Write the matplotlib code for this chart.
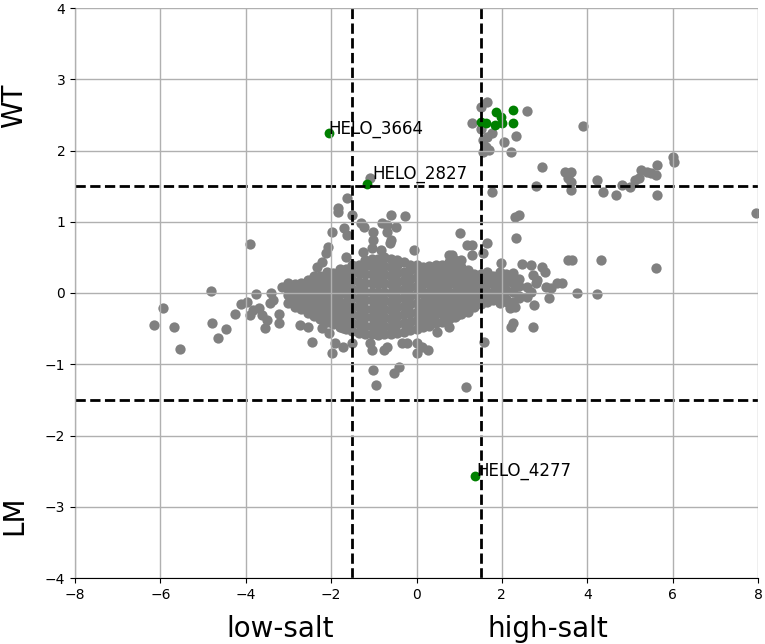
import matplotlib
matplotlib.use('Agg')
import matplotlib.pyplot as plt

# dichter Kern der Punktwolke: x-Spalten und die y-Werte je Spalte
cloud_cols = [-3.00, -2.85, -2.70, -2.55, -2.40, -2.25, -2.10, -1.95, -1.80, -1.65,
              -1.50, -1.35, -1.20, -1.05, -0.90, -0.75, -0.60, -0.45, -0.30, -0.15,
              0.00, 0.15, 0.30, 0.45, 0.60, 0.75, 0.90, 1.05, 1.20, 1.35,
              1.50, 1.65, 1.80, 1.95, 2.10, 2.25, 2.40]
cloud_rows = [
    [-0.14, -0.03, 0.06],
    [-0.20, -0.08, 0.04, 0.12],
    [-0.22, -0.10, 0.02, 0.14],
    [-0.28, -0.16, -0.04, 0.08, 0.18],
    [-0.32, -0.20, -0.08, 0.04, 0.16, 0.24],
    [-0.36, -0.24, -0.12, 0.00, 0.12, 0.24],
    [-0.40, -0.28, -0.16, -0.04, 0.08, 0.20, 0.30],
    [-0.44, -0.32, -0.20, -0.08, 0.04, 0.16, 0.28],
    [-0.48, -0.36, -0.24, -0.12, 0.00, 0.12, 0.24, 0.34],
    [-0.50, -0.38, -0.26, -0.14, -0.02, 0.10, 0.22, 0.34],
    [-0.54, -0.42, -0.30, -0.18, -0.06, 0.06, 0.18, 0.30, 0.40],
    [-0.56, -0.44, -0.32, -0.20, -0.08, 0.04, 0.16, 0.28, 0.40],
    [-0.58, -0.46, -0.34, -0.22, -0.10, 0.02, 0.14, 0.26, 0.38, 0.46],
    [-0.58, -0.46, -0.34, -0.22, -0.10, 0.02, 0.14, 0.26, 0.38, 0.48],
    [-0.59, -0.48, -0.36, -0.24, -0.12, 0.00, 0.12, 0.24, 0.36, 0.48],
    [-0.58, -0.46, -0.34, -0.22, -0.10, 0.02, 0.14, 0.26, 0.38, 0.50],
    [-0.57, -0.48, -0.36, -0.24, -0.12, 0.00, 0.12, 0.24, 0.36, 0.48],
    [-0.56, -0.44, -0.32, -0.20, -0.08, 0.04, 0.16, 0.28, 0.40, 0.46],
    [-0.55, -0.42, -0.30, -0.18, -0.06, 0.06, 0.18, 0.30, 0.44],
    [-0.52, -0.40, -0.28, -0.16, -0.04, 0.08, 0.20, 0.32, 0.40],
    [-0.50, -0.38, -0.26, -0.14, -0.02, 0.10, 0.22, 0.34, 0.40],
    [-0.48, -0.36, -0.24, -0.12, 0.00, 0.12, 0.24, 0.36],
    [-0.46, -0.34, -0.22, -0.10, 0.02, 0.14, 0.26, 0.38],
    [-0.42, -0.30, -0.18, -0.06, 0.06, 0.18, 0.30, 0.39],
    [-0.40, -0.28, -0.16, -0.04, 0.08, 0.20, 0.32, 0.40],
    [-0.36, -0.24, -0.12, 0.00, 0.12, 0.24, 0.36, 0.44],
    [-0.33, -0.22, -0.10, 0.02, 0.14, 0.26, 0.38, 0.46],
    [-0.30, -0.18, -0.06, 0.06, 0.18, 0.30, 0.36],
    [-0.26, -0.14, -0.02, 0.10, 0.22, 0.32],
    [-0.20, -0.08, 0.04, 0.16, 0.26],
    [-0.16, -0.04, 0.08, 0.20, 0.26],
    [-0.12, 0.00, 0.12, 0.22, 0.30],
    [-0.10, 0.02, 0.14, 0.24],
    [-0.14, -0.02, 0.10, 0.22, 0.30],
    [-0.08, 0.04, 0.16, 0.26],
    [-0.12, 0.02, 0.14, 0.22],
    [-0.04, 0.10, 0.20],
]

# einzelne graue Punkte ausserhalb des Kerns
gray_x = [-6.14, -5.93, -5.69, -5.53, -4.82, -4.80, -4.64, -4.47, -4.26, -4.10,
          -3.96, -3.91, -3.91, -3.84, -3.77, -3.68, -3.63, -3.56, -3.51, -3.44,
          -3.42, -3.37, -3.21, -3.21, -3.15, -3.02,
          -2.74, -2.55, -2.44, -2.22, -2.04, -1.99, -1.92, -1.73, -1.73, -1.50,
          -1.10, -1.05, -1.03, -0.94, -0.75, -0.70, -0.52, -0.40, -0.33, -0.23,
          0.00, 0.02, 0.12, 0.26, 0.47, 0.77, 0.94, 1.15, 1.59,
          -2.32, -2.22, -2.11, -2.08, -1.99, -1.85, -1.83, -1.62, -1.69, -1.62,
          -1.52, -1.64, -1.29, -1.22, -1.03, -1.03, -1.05, -1.26, -0.82, -0.80,
          -0.70, -0.68, -0.63, -0.59, -0.59, -0.47, -0.26, -0.05, -1.08,
          0.77, 0.84, 1.01, 1.05, 1.19, 1.29, 1.29, 1.55, 1.66, 2.34, 2.30, 2.41, 1.78,
          1.99, 2.46, 2.69, 2.93, 3.00, 2.72, 2.25, 2.34, 2.58, 2.01, 2.83, 2.81,
          3.04, 3.16, 3.28, 3.42, 3.11, 2.69, 2.58, 2.41, 2.30, 2.18, 2.13, 2.76,
          2.25, 2.22, 2.72, 3.77, 4.22, 3.54, 3.65, 4.33, 5.62,
          1.31, 1.52, 1.66, 2.58, 3.89, 1.50, 1.55, 1.64, 1.78, 1.71, 1.55, 1.62,
          2.06, 2.22, 2.34, 2.93, 3.47, 3.63, 3.54, 3.63, 3.63, 2.81, 4.22, 4.36,
          4.68, 4.82, 4.99, 5.11, 5.22, 5.27, 5.39, 5.50, 5.64, 5.62, 5.64, 6.00,
          6.04, 7.96]
gray_y = [-0.45, -0.21, -0.48, -0.78, 0.03, -0.42, -0.63, -0.51, -0.29, -0.15,
          -0.13, 0.69, -0.31, -0.24, -0.01, -0.21, -0.31, -0.49, -0.38, -0.14,
          0.00, -0.10, -0.42, -0.30, 0.08, 0.14,
          -0.45, -0.48, -0.69, -0.49, -0.56, -0.84, -0.70, -0.76, -0.49, -0.70,
          -0.70, -0.80, -1.08, -1.29, -0.80, -0.76, -1.12, -1.04, -0.70, -0.70,
          -0.70, -0.84, -0.76, -0.80, -0.55, -0.48, -0.31, -1.32, -0.69,
          0.36, 0.43, 0.56, 0.65, 0.86, 1.14, 1.19, 1.33, 0.91, 0.81,
          1.09, 0.51, 0.98, 0.93, 0.86, 0.74, 0.63, 0.58, 0.60, 0.98,
          0.95, 0.86, 0.70, 0.74, 1.09, 0.93, 1.08, 0.60, 1.61,
          0.53, 0.53, 0.84, 0.46, 0.67, 0.67, 0.53, 0.56, 0.70, 0.77, 1.07, 1.10, 1.42,
          0.42, 0.41, 0.39, 0.36, 0.29, 0.25, 0.28, 0.14, 0.08, 0.11, 0.18, 0.14,
          0.08, 0.07, 0.14, 0.14, -0.07, 0.01, -0.06, -0.07, -0.20, -0.21, -0.13, -0.17,
          -0.42, -0.48, -0.48, 0.00, -0.01, 0.46, 0.46, 0.46, 0.35,
          2.38, 2.61, 2.68, 2.55, 2.34, 2.30, 2.15, 2.19, 2.24, 2.01, 1.98, 2.05,
          2.12, 1.98, 2.20, 1.77, 1.70, 1.70, 1.61, 1.56, 1.44, 1.50, 1.58, 1.42,
          1.37, 1.51, 1.49, 1.58, 1.61, 1.72, 1.70, 1.68, 1.80, 1.65, 1.37, 1.91,
          1.84, 1.12]

# hervorgehobene (gruene) Gene
green_x = [-2.06, -1.17, 1.38, 1.52, 1.62, 1.87, 1.99, 2.25, 1.85, 2.01, 2.27]
green_y = [2.24, 1.53, -2.57, 2.40, 2.38, 2.54, 2.47, 2.57, 2.36, 2.38, 2.38]

gene_labels = ['HELO_3664', 'HELO_2827', 'HELO_4277']
label_x = [-2.06, -1.03, 1.40]
label_y = [2.24, 1.60, -2.57]

cut = 1.5

all_x = []
all_y = []
for cx, ys in zip(cloud_cols, cloud_rows):
    for cy in ys:
        all_x.append(cx)
        all_y.append(cy)
all_x += gray_x
all_y += gray_y

fig = plt.figure(figsize=(7.65, 6.44), dpi=100)
ax = fig.add_axes([75 / 765, 1 - 578 / 644, 683 / 765, 570 / 644])

ax.scatter(all_x, all_y, s=55, color='gray', linewidths=0)
ax.scatter(green_x, green_y, s=50, color='green', linewidths=0)

for lab, lx, ly in zip(gene_labels, label_x, label_y):
    ax.text(lx, ly, lab, fontsize=12, ha='left', va='baseline')

ax.axvline(-cut, color='black', linestyle='--', linewidth=2)
ax.axvline(cut, color='black', linestyle='--', linewidth=2)
ax.axhline(-cut, color='black', linestyle='--', linewidth=2)
ax.axhline(cut, color='black', linestyle='--', linewidth=2)

ax.set_xlim(-8, 8)
ax.set_ylim(-4, 4)
ax.set_xticks(range(-8, 9, 2))
ax.set_yticks(range(-4, 5))
ax.tick_params(labelsize=10)
ax.grid(True, color='#b0b0b0', linewidth=1)
ax.set_axisbelow(False)
ax.spines['top'].set_visible(False)
ax.spines['right'].set_visible(False)

fig.text(280 / 765, 1 - 637 / 644, 'low-salt', ha='center', va='baseline', fontsize=20)
fig.text(548 / 765, 1 - 637 / 644, 'high-salt', ha='center', va='baseline', fontsize=20)
fig.text(14 / 765, 1 - 106 / 644, 'WT', ha='center', va='center', rotation=90, fontsize=20)
fig.text(14 / 765, 1 - 515 / 644, 'LM', ha='center', va='center', rotation=90, fontsize=20)

fig.savefig('out.png', dpi=100)
